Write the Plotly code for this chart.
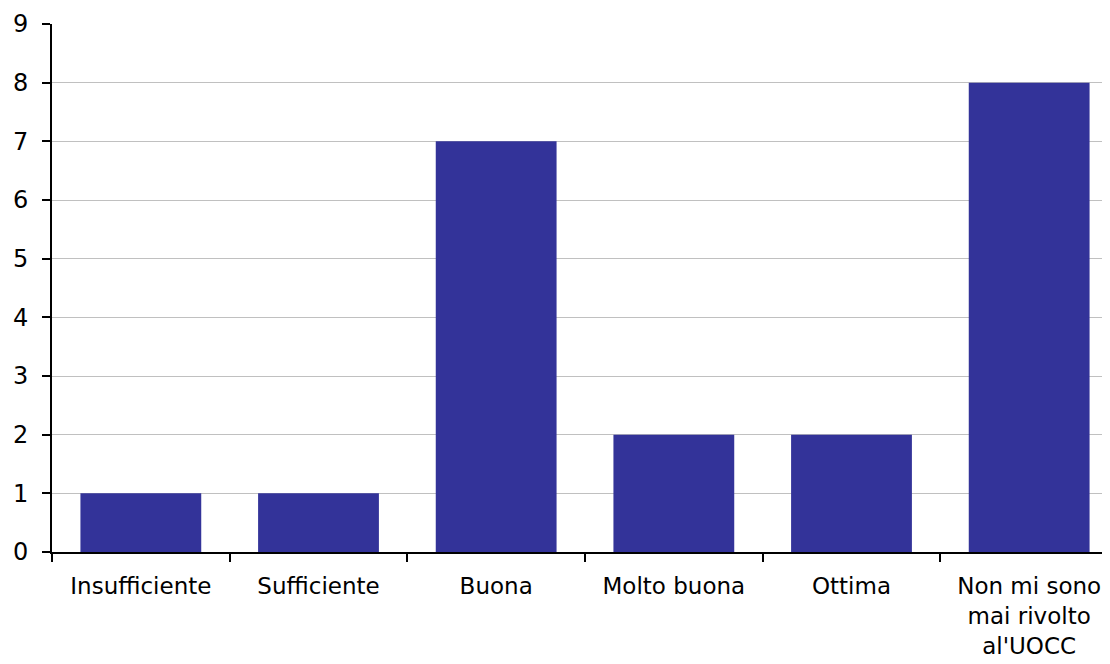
import plotly.graph_objects as go

categories = ["Insufficiente", "Sufficiente", "Buona", "Molto buona", "Ottima",
              "Non mi sono<br>mai rivolto<br>al'UOCC"]
values = [1, 1, 7, 2, 2, 8]
y_ticks = [0, 1, 2, 3, 4, 5, 6, 7, 8, 9]

fig = go.Figure()
fig.add_trace(go.Bar(x=categories, y=values, marker=dict(color="#333399", line=dict(width=0))))

# page body has an 8px default margin; compensate so the plot lands where the reference has it
fig.update_layout(
    width=1110, height=656,
    margin=dict(l=44, r=0, t=16, b=112),
    plot_bgcolor="white", paper_bgcolor="white",
    bargap=0.32,
    showlegend=False,
    font=dict(family="DejaVu Sans", size=23, color="black"),
)
fig.update_xaxes(
    automargin=False,
    showline=True, linecolor="black", linewidth=1.5,
    ticks="outside", tickson="boundaries", ticklen=8, tickcolor="black", tickwidth=1.5,
    showgrid=False, tickfont=dict(size=23), ticklabelstandoff=13,
)
fig.update_yaxes(
    automargin=False,
    range=[0, 9], tickvals=y_ticks, showline=True, linecolor="black", linewidth=2,
    ticks="outside", ticklen=8, tickcolor="black", tickwidth=1.5,
    showgrid=True, gridcolor="#c0c0c0", gridwidth=1, zeroline=False,
    tickfont=dict(size=24), ticklabelstandoff=9,
)
fig.write_html("out.html")
